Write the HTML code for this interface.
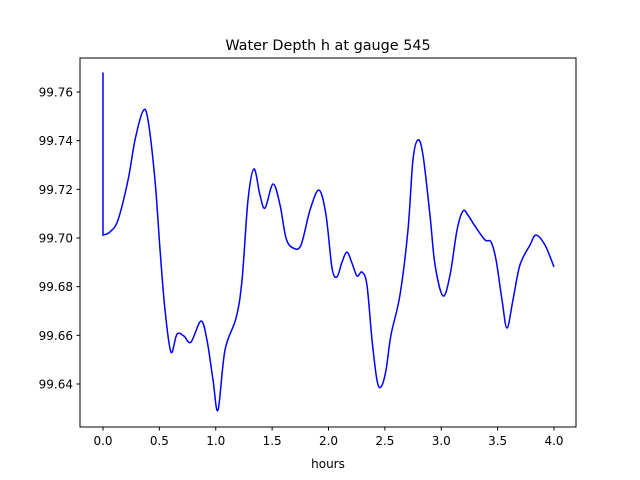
<!DOCTYPE html>
<html><head><meta charset="utf-8"><style>
body{margin:0;background:#fff}
svg{display:block;font-family:"DejaVu Sans","Liberation Sans",sans-serif}
</style></head><body>
<svg width="640" height="480">
<rect width="640" height="480" fill="#fff"/>
<text x="328" y="50" text-anchor="middle" font-size="14.4">Water Depth h at gauge 545</text>
<g id="xticks"></g>
<g id="yticks"></g>
<path id="line" fill="none" stroke="#0000ff" stroke-width="1.5"/>
<rect x="80" y="58" width="496" height="369" fill="none" stroke="#000" stroke-width="1"/>
<text x="328" y="468" text-anchor="middle" font-size="12">hours</text>
</svg>
<script>
const hours=[0,0,0.062,0.133,0.222,0.284,0.355,0.399,0.461,0.506,0.550,0.603,0.656,0.718,0.780,0.869,0.922,0.976,1.020,1.082,1.180,1.233,1.286,1.339,1.392,1.437,1.508,1.570,1.623,1.685,1.756,1.836,1.916,1.978,2.031,2.075,2.120,2.164,2.208,2.253,2.297,2.341,2.386,2.430,2.466,2.510,2.554,2.634,2.705,2.749,2.794,2.838,2.900,2.945,3.016,3.078,3.140,3.193,3.237,3.299,3.388,3.441,3.486,3.539,3.583,3.636,3.698,3.787,3.840,3.920,4.000];
const depth=[99.768,99.7012,99.7025,99.7074,99.7238,99.7403,99.7522,99.7485,99.7238,99.6951,99.6704,99.6531,99.6605,99.6597,99.6572,99.6659,99.6581,99.6416,99.6293,99.6540,99.6671,99.6827,99.7156,99.7284,99.7177,99.7123,99.7222,99.7136,99.7000,99.6959,99.6971,99.7115,99.7197,99.7094,99.6877,99.6840,99.6901,99.6942,99.6897,99.6844,99.6860,99.6807,99.6581,99.6416,99.6388,99.6457,99.6601,99.6766,99.7033,99.7321,99.7403,99.7341,99.7094,99.6889,99.6762,99.6848,99.7033,99.7111,99.7094,99.7049,99.6992,99.6984,99.6910,99.6745,99.6630,99.6745,99.6889,99.6971,99.7012,99.6971,99.6881];
const xTicks=[0.0,0.5,1.0,1.5,2.0,2.5,3.0,3.5,4.0];
const yTicks=[99.64,99.66,99.68,99.70,99.72,99.74,99.76];
const X=h=>103+h*112.75;
const Y=v=>92+(99.76-v)*2433.33;
const NS="http://www.w3.org/2000/svg";
const xg=document.getElementById('xticks'),yg=document.getElementById('yticks');
xTicks.forEach(t=>{
 const l=document.createElementNS(NS,'line');
 
 
 l.setAttribute('x1',X(t));l.setAttribute('x2',X(t));l.setAttribute('y1',427);l.setAttribute('y2',430.5);l.setAttribute('stroke','#000');
 xg.appendChild(l);
 const tx=document.createElementNS(NS,'text');
 
 
 tx.setAttribute('x',X(t));tx.setAttribute('y',445);tx.setAttribute('text-anchor','middle');tx.setAttribute('font-size','12');
 tx.textContent=t.toFixed(1);xg.appendChild(tx);
});
yTicks.forEach(t=>{
 const l=document.createElementNS(NS,'line');
 
 
 l.setAttribute('x1',76.5);l.setAttribute('x2',80);l.setAttribute('y1',Y(t));l.setAttribute('y2',Y(t));l.setAttribute('stroke','#000');
 yg.appendChild(l);
 const tx=document.createElementNS(NS,'text');
 
 
 tx.setAttribute('x',73);tx.setAttribute('y',Y(t)+4.5);tx.setAttribute('text-anchor','end');tx.setAttribute('font-size','12');
 tx.textContent=t.toFixed(2);yg.appendChild(tx);
});
const P=hours.map((h,i)=>[X(h),Y(depth[i])]);
let d='M'+P[0][0]+','+P[0][1]+' L'+P[1][0]+','+P[1][1];
for(let i=1;i<P.length-1;i++){
 const p0=P[Math.max(1,i-1)],p1=P[i],p2=P[i+1],p3=P[Math.min(P.length-1,i+2)];
 const c1=[p1[0]+(p2[0]-p0[0])/6,p1[1]+(p2[1]-p0[1])/6];
 const c2=[p2[0]-(p3[0]-p1[0])/6,p2[1]-(p3[1]-p1[1])/6];
 d+=` C${c1[0]},${c1[1]} ${c2[0]},${c2[1]} ${p2[0]},${p2[1]}`;
}
document.getElementById('line').setAttribute('d',d);
</script>
</body></html>
